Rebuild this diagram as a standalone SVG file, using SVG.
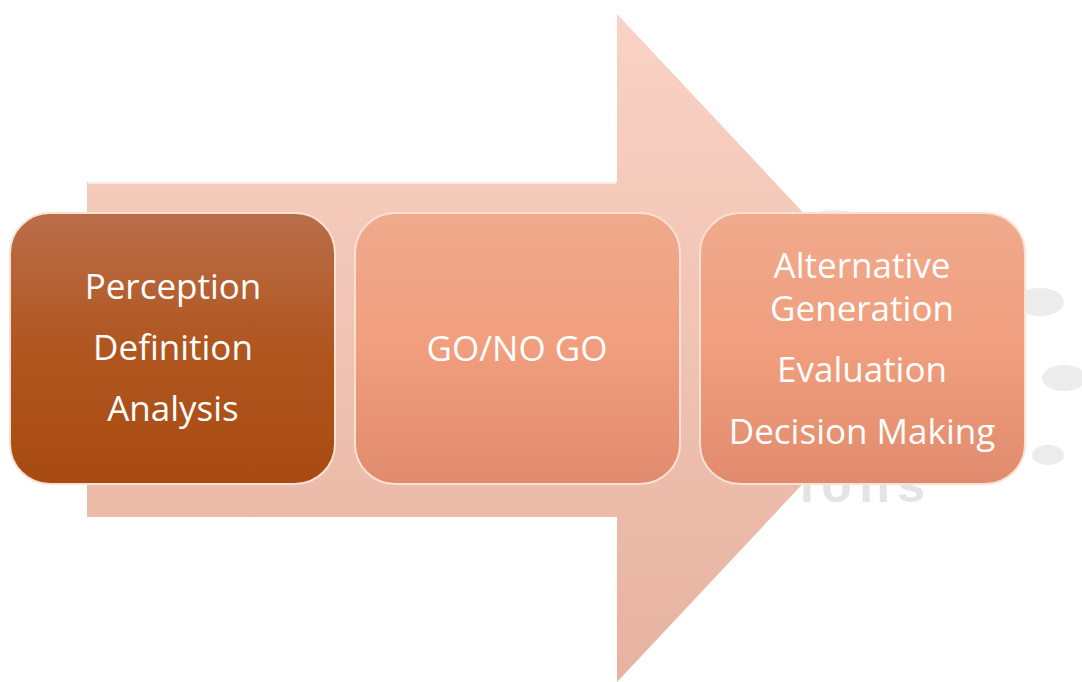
<svg xmlns="http://www.w3.org/2000/svg" width="1082" height="682" viewBox="0 0 1082 682">
<defs>
<linearGradient id="arrowG" x1="0" y1="0" x2="0" y2="1">
<stop offset="0" stop-color="#f9d3c5"/>
<stop offset="1" stop-color="#e7b2a0"/>
</linearGradient>
<linearGradient id="darkG" x1="0" y1="0" x2="0" y2="1">
<stop offset="0" stop-color="#ba6e4a"/>
<stop offset="0.5" stop-color="#b0561f"/>
<stop offset="1" stop-color="#a84b12"/>
</linearGradient>
<linearGradient id="lightG" x1="0" y1="0" x2="0" y2="1">
<stop offset="0" stop-color="#f0aa8c"/>
<stop offset="0.5" stop-color="#f09e7e"/>
<stop offset="1" stop-color="#e08b6d"/>
</linearGradient>
<linearGradient id="gloss" x1="0" y1="0" x2="1" y2="0">
<stop offset="0" stop-color="#ffffff" stop-opacity="0"/>
<stop offset="0.15" stop-color="#ffffff" stop-opacity="0.7"/>
<stop offset="0.85" stop-color="#ffffff" stop-opacity="0.7"/>
<stop offset="1" stop-color="#ffffff" stop-opacity="0"/>
</linearGradient>
<style>
.lbl{font-family:"Open Sans","Noto Sans","Liberation Sans",sans-serif;font-size:35px;fill:#ffffff;text-anchor:middle}
.ghost{font-family:"Liberation Sans",sans-serif;font-weight:bold;font-size:50px;fill:#e4e4e4}
.blob{fill:#ececec}
.box{stroke:#fbe0d4;stroke-width:2}
</style>
</defs>
<g id="background">
<ellipse class="blob" cx="835" cy="218" rx="24" ry="8"/>
<ellipse class="blob" cx="1040" cy="302" rx="24" ry="14"/>
<ellipse class="blob" cx="1064" cy="378" rx="22" ry="13"/>
<ellipse class="blob" cx="1048" cy="455" rx="16" ry="10"/>
<text class="ghost" x="800" y="502" textLength="125">ions</text>
</g>
<g id="connectors">
<path d="M87 182 L617 182 L617 14 L930 348 L617 682 L617 517 L87 517 Z" fill="url(#arrowG)"/>
<path d="M88 183 L616 183" stroke="#ffffff" stroke-opacity="0.6" stroke-width="2"/>
</g>
<g id="node1">
<rect class="box" x="10" y="213" width="325" height="271" rx="40" fill="url(#darkG)"/>
<path d="M45 222 L300 222" stroke="url(#gloss)" stroke-width="4"/>
<text class="lbl" x="173" y="299">Perception</text>
<text class="lbl" x="173" y="360">Definition</text>
<text class="lbl" x="173" y="421">Analysis</text>
</g>
<g id="node2">
<rect class="box" x="355" y="213" width="325" height="271" rx="40" fill="url(#lightG)"/>
<path d="M390 222 L645 222" stroke="url(#gloss)" stroke-width="4"/>
<text class="lbl" x="517" y="361">GO/NO GO</text>
</g>
<g id="node3">
<rect class="box" x="700" y="213" width="325" height="271" rx="40" fill="url(#lightG)"/>
<path d="M735 222 L990 222" stroke="url(#gloss)" stroke-width="4"/>
<text class="lbl" x="862" y="278">Alternative</text>
<text class="lbl" x="862" y="321">Generation</text>
<text class="lbl" x="862" y="382">Evaluation</text>
<text class="lbl" x="862" y="444">Decision Making</text>
</g>
</svg>
